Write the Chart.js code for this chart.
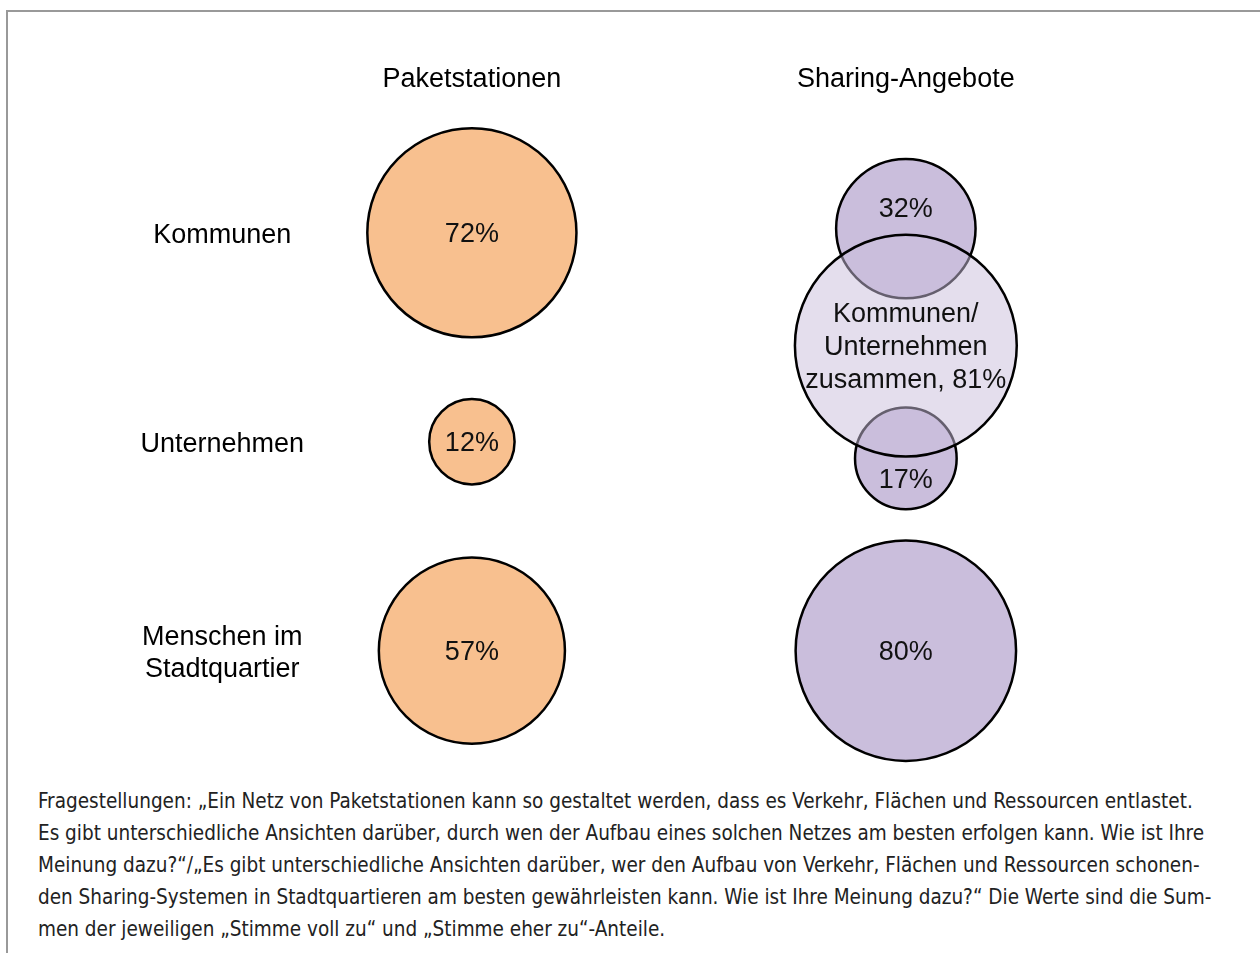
<!DOCTYPE html>
<html>
<head>
<meta charset="utf-8">
<script src="https://cdn.jsdelivr.net/npm/chart.js@4/dist/chart.umd.min.js"></script>
<style>
  body { margin: 0; background: #fff; }
  #frame {
    position: absolute; left: 6px; top: 10px; width: 1260px; height: 960px;
    border-left: 2px solid #999; border-top: 2px solid #999;
  }
  #wrap { position: absolute; left: 0; top: 0; width: 1260px; height: 780px; }
  #note {
    position: absolute; left: 38px; top: 785px;
    font-family: "DejaVu Sans Condensed", "DejaVu Sans", sans-serif;
    font-stretch: condensed;
    font-size: 20.5px; line-height: 32px; color: #222;
    white-space: nowrap;
  }
</style>
</head>
<body>
<div id="frame"></div>
<div id="wrap"><canvas id="bubbles"></canvas></div>
<div id="note">
  Fragestellungen: „Ein Netz von Paketstationen kann so gestaltet werden, dass es Verkehr, Flächen und Ressourcen entlastet.<br>
  Es gibt unterschiedliche Ansichten darüber, durch wen der Aufbau eines solchen Netzes am besten erfolgen kann. Wie ist Ihre<br>
  Meinung dazu?“/„Es gibt unterschiedliche Ansichten darüber, wer den Aufbau von Verkehr, Flächen und Ressourcen schonen-<br>
  den Sharing-Systemen in Stadtquartieren am besten gewährleisten kann. Wie ist Ihre Meinung dazu?“ Die Werte sind die Sum-<br>
  men der jeweiligen „Stimme voll zu“ und „Stimme eher zu“-Anteile.
</div>
<script>
// Spalten und Zeilen
const columns = ["Paketstationen", "Sharing-Angebote"];
const rows = ["Kommunen", "Unternehmen", ["Menschen im", "Stadtquartier"]];

// Paketstationen: Zustimmung je Akteur (%)
const paketValues = [72, 12, 57];

// Sharing-Angebote: Kommunen, Unternehmen, Menschen im Stadtquartier (%)
const sharingValues = [32, 17, 80];
// Lage in Zeilen-Einheiten (Kommunen/Unternehmen rücken zum gemeinsamen Kreis)
const sharingRow = [-0.02, 1.08, 2];

// Kommunen/Unternehmen zusammen
const togetherValue = 81;
const togetherRow = 0.54;

const FONT = "'Liberation Sans', Arial, sans-serif";

// Kreisfläche proportional zum Wert (wird schon beim Parsen gebraucht,
// deshalb an der Höhe des Diagramms statt an der Skala festgemacht)
function radiusOf(ctx) {
  if (!ctx.raw) return 0;
  return Math.sqrt(ctx.raw.v / 100) * ctx.chart.height * 0.158;
}

const labelPlugin = {
  id: "bubbleLabels",
  afterDatasetsDraw(chart) {
    const c = chart.ctx;
    c.save();
    c.fillStyle = "#111";
    c.font = "27px " + FONT;
    c.textAlign = "center";
    c.textBaseline = "middle";
    chart.data.datasets.forEach((ds, di) => {
      const meta = chart.getDatasetMeta(di);
      meta.data.forEach((pt, i) => {
        const raw = ds.data[i];
        const shift = (raw.shift || 0) * pt.options.radius;
        const lines = raw.text ? raw.text : [raw.v + "%"];
        const lh = 33;
        lines.forEach((t, k) => {
          c.fillText(t, pt.x, pt.y + 2 + shift + (k - (lines.length - 1) / 2) * lh);
        });
      });
    });
    c.restore();
  }
};

function noPad(axis) {
  axis.paddingTop = 0; axis.paddingBottom = 0;
  axis.paddingLeft = 0; axis.paddingRight = 0;
}

const ctx = document.getElementById("bubbles").getContext("2d");
new Chart(ctx, {
  type: "bubble",
  data: {
    datasets: [
      {
        label: "Kommunen/Unternehmen zusammen",
        order: 0,
        data: [{ x: 1, y: togetherRow, v: togetherValue,
                 text: ["Kommunen/", "Unternehmen", "zusammen, " + togetherValue + "%"] }],
        backgroundColor: "rgba(202, 190, 220, 0.5)",
        borderColor: "#000",
        borderWidth: 2.5,
        radius: radiusOf,
        hoverRadius: 0,
        clip: false
      },
      {
        label: columns[0],
        order: 1,
        data: paketValues.map((v, i) => ({ x: 0, y: i, v: v })),
        backgroundColor: "#F8C08F",
        borderColor: "#000",
        borderWidth: 2.5,
        radius: radiusOf,
        hoverRadius: 0,
        clip: false
      },
      {
        label: columns[1],
        order: 1,
        data: sharingValues.map((v, i) => ({ x: 1, y: sharingRow[i], v: v, shift: [-0.3, 0.4, 0][i] })),
        backgroundColor: "#CABEDC",
        borderColor: "#000",
        borderWidth: 2.5,
        radius: radiusOf,
        hoverRadius: 0,
        clip: false
      }
    ]
  },
  options: {
    responsive: true,
    maintainAspectRatio: false,
    animation: false,
    events: [],
    layout: { autoPadding: false, padding: { top: 0, right: 7, bottom: 4, left: 0 } },
    plugins: {
      legend: { display: false },
      tooltip: { enabled: false }
    },
    scales: {
      x: {
        type: "linear",
        position: "top",
        min: -0.35,
        max: 1.8,
        grid: { display: false, drawTicks: false },
        border: { display: false },
        afterBuildTicks: axis => { axis.ticks = columns.map((_, i) => ({ value: i })); },
        afterFit: axis => { axis.height = 97; noPad(axis); },
        ticks: {
          padding: 1,
          maxRotation: 0,
          autoSkip: false,
          color: "#000",
          font: { family: FONT, size: 27 },
          callback: value => columns[value]
        }
      },
      y: {
        type: "linear",
        reverse: true,
        min: -0.65,
        max: 2.6,
        grid: { display: false, drawTicks: false },
        border: { display: false },
        afterBuildTicks: axis => { axis.ticks = rows.map((_, i) => ({ value: i })); },
        afterFit: axis => { axis.width = 320; noPad(axis); },
        ticks: {
          padding: 16,
          labelOffset: 3,
          crossAlign: "center",
          autoSkip: false,
          color: "#000",
          font: { family: FONT, size: 27 },
          callback: value => rows[value]
        }
      }
    }
  },
  plugins: [labelPlugin]
});
</script>
</body>
</html>
